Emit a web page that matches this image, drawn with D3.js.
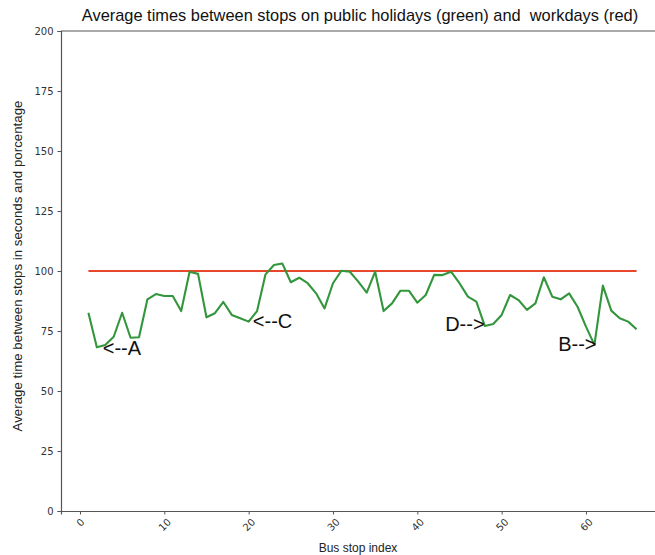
<!DOCTYPE html>
<html>
<head>
<meta charset="utf-8">
<script src="https://cdn.jsdelivr.net/npm/d3@7"></script>
<style>
  html, body { margin: 0; padding: 0; background: #fff; }
  svg { display: block; }
</style>
</head>
<body>
<svg id="chart" width="655" height="555"></svg>
<script>
// Bus stop indices and average times (seconds / percentage)
const stops = d3.range(1, 67);
const holidayTimes = [
  82.6, 68.2, 69.2, 72.6, 82.6, 72.2, 72.4, 88.2, 90.4, 89.6,
  89.6, 83.3, 99.7, 98.8, 80.7, 82.4, 87.1, 81.7, 80.3, 78.9,
  83.3, 98.6, 102.5, 103.1, 95.3, 97.2, 94.9, 90.7, 84.4, 94.9,
  100.1, 99.7, 95.6, 91.0, 99.7, 83.3, 86.5, 91.8, 91.8, 86.8,
  90.0, 98.4, 98.3, 99.7, 94.9, 89.3, 87.2, 77.1, 77.9, 81.7,
  90.0, 87.9, 83.8, 86.5, 97.4, 89.3, 88.2, 90.7, 85.1, 76.8,
  69.2, 93.9, 83.5, 80.3, 78.9, 75.7
];
const workdayTimes = stops.map(() => 100);

const xTicks = [0, 10, 20, 30, 40, 50, 60];
const yTicks = [0, 25, 50, 75, 100, 125, 150, 175, 200];

// Text markers placed next to the notable stops
const noteLabels = ["<--A", "<--C", "D-->", "B-->"];
const noteX = [2.7, 20.5, 43.3, 56.7];
const noteY = [65, 76.2, 75, 66.7];

const svg = d3.select("#chart");
const plot = { left: 61, right: 664, top: 31, bottom: 511 };

const x = d3.scaleLinear().domain([-2.25, 69.25]).range([plot.left, plot.right]);
const y = d3.scaleLinear().domain([0, 200]).range([plot.bottom, plot.top]);

const spineColor = "#555";

// Title
svg.append("text")
  .attr("x", 360)
  .attr("y", 21)
  .attr("text-anchor", "middle")
  .attr("font-family", "Liberation Sans, Arial, sans-serif")
  .attr("font-size", 16.4)
  .attr("fill", "#111")
  .style("white-space", "pre")
  .text("Average times between stops on public holidays (green) and  workdays (red)");

// Y axis
const yAxis = svg.append("g")
  .attr("transform", `translate(${plot.left},0)`)
  .call(d3.axisLeft(y).tickValues(yTicks).tickSize(3.5).tickPadding(4).tickFormat(d3.format("d")));
yAxis.select(".domain").attr("stroke", spineColor).attr("stroke-width", 1.2);
yAxis.selectAll(".tick line").attr("stroke", spineColor);
yAxis.selectAll(".tick text")
  .attr("font-family", "DejaVu Sans, sans-serif")
  .attr("font-size", 10)
  .attr("fill", "#333");

// X axis
const xAxis = svg.append("g")
  .attr("transform", `translate(0,${plot.bottom})`)
  .call(d3.axisBottom(x).tickValues(xTicks).tickSize(3.5).tickFormat(d3.format("d")));
xAxis.select(".domain").attr("stroke", spineColor).attr("stroke-width", 1.2);
xAxis.selectAll(".tick line").attr("stroke", spineColor);
xAxis.selectAll(".tick text")
  .attr("font-family", "DejaVu Sans, sans-serif")
  .attr("font-size", 10)
  .attr("fill", "#333")
  .attr("text-anchor", "middle")
  .attr("dominant-baseline", "central")
  .attr("dy", null)
  .attr("y", null)
  .attr("transform", function() {
    const w = this.getComputedTextLength();
    const h = 10 * 0.75;
    const half = (w + h) * Math.SQRT1_2 / 2;
    return `translate(0,${3.5 + 3 + half}) rotate(-45)`;
  });

// Top spine
svg.append("line")
  .attr("x1", plot.left).attr("x2", plot.right)
  .attr("y1", plot.top).attr("y2", plot.top)
  .attr("stroke", spineColor).attr("stroke-width", 1.2);

// Axis titles
svg.append("text")
  .attr("x", 358)
  .attr("y", 552)
  .attr("text-anchor", "middle")
  .attr("font-family", "Liberation Sans, Arial, sans-serif")
  .attr("font-size", 12)
  .attr("fill", "#222")
  .text("Bus stop index");

svg.append("text")
  .attr("transform", `translate(22,266) rotate(-90)`)
  .attr("text-anchor", "middle")
  .attr("font-family", "Liberation Sans, Arial, sans-serif")
  .attr("font-size", 13.3)
  .attr("fill", "#222")
  .text("Average time between stops in seconds and porcentage");

// Lines
const line = d3.line().x((d, i) => x(stops[i])).y(d => y(d));

svg.append("path")
  .datum(workdayTimes)
  .attr("d", line)
  .attr("fill", "none")
  .attr("stroke", "#e8472e")
  .attr("stroke-width", 2.2);

svg.append("path")
  .datum(holidayTimes)
  .attr("d", line)
  .attr("fill", "none")
  .attr("stroke", "#34963c")
  .attr("stroke-width", 2.1)
  .attr("stroke-linejoin", "round");

// Markers
svg.append("g").selectAll("text")
  .data(noteLabels)
  .join("text")
  .attr("x", (d, i) => x(noteX[i]))
  .attr("y", (d, i) => y(noteY[i]))
  .attr("font-family", "Liberation Sans, Arial, sans-serif")
  .attr("font-size", 20)
  .attr("fill", "#111")
  .text(d => d);
</script>
</body>
</html>
